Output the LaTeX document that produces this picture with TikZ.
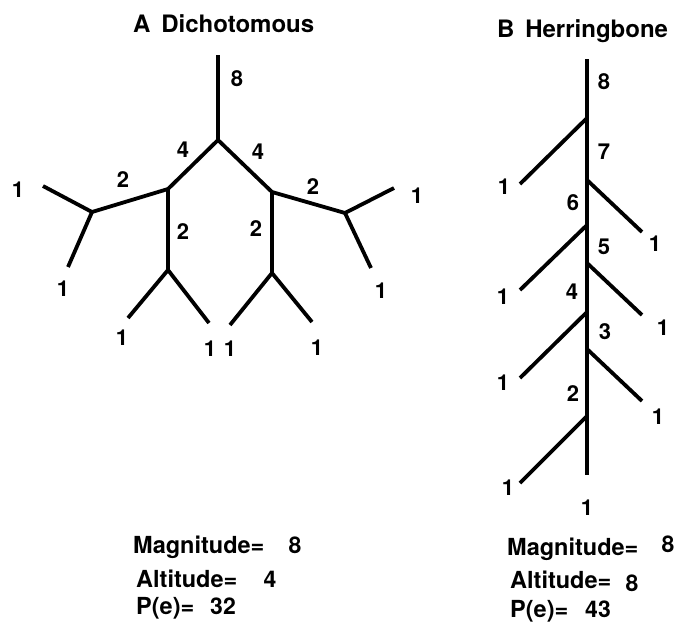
\documentclass[tikz,border=0pt]{standalone}
\usepackage{fontspec}
\setmainfont{TeX Gyre Heros}
\begin{document}
\begin{tikzpicture}[x=1pt,y=-1pt,
  br/.style={line width=3.8pt, line join=miter},
  lbl/.style={font=\fontsize{22}{22}\selectfont\bfseries, inner sep=0pt},
  ttl/.style={font=\fontsize{24}{24}\selectfont\bfseries, inner sep=0pt, anchor=base west},
  stat/.style={font=\fontsize{23.5}{23.5}\selectfont\bfseries, inner sep=0pt, anchor=base west},
  statnum/.style={font=\fontsize{23}{23}\selectfont\bfseries, inner sep=0pt, anchor=base}]
\useasboundingbox (0,0) rectangle (675,622);
% ---------- A Dichotomous ----------
\node[ttl] (tA) at (133,32) {A\hspace{0.45em}Dichotomous};
\coordinate (aTop) at (218,55);
\coordinate (aJ) at (218,140);
\coordinate (aL) at (168,189);
\coordinate (aR) at (272,192);
\coordinate (aLL) at (92,212);
\coordinate (aLL1) at (43,186);
\coordinate (aLL2) at (68,267);
\coordinate (aLD) at (168,270);
\coordinate (aLD1) at (128,318);
\coordinate (aLD2) at (209,323);
\coordinate (aRD) at (272,273);
\coordinate (aRD1) at (230,325);
\coordinate (aRD2) at (312,322);
\coordinate (aRR) at (345,213);
\coordinate (aRR1) at (394,188);
\coordinate (aRR2) at (371,268);
\draw[br] (aTop) -- (aJ);
\draw[br] (aL) -- (aJ) -- (aR);
\draw[br] (aLL1) -- (aLL) -- (aL) -- (aLD);
\draw[br] (aLL) -- (aLL2);
\draw[br] (aLD1) -- (aLD) -- (aLD2);
\draw[br] (aRR1) -- (aRR) -- (aR) -- (aRD);
\draw[br] (aRR) -- (aRR2);
\draw[br] (aRD1) -- (aRD) -- (aRD2);
\node[lbl] (a8) at (237,79) {8};
\node[lbl] (a4l) at (183,150) {4};
\node[lbl] (a4r) at (258,152) {4};
\node[lbl] (a2a) at (123,180) {2};
\node[lbl] (a2b) at (183,232) {2};
\node[lbl] (a2c) at (256,229) {2};
\node[lbl] (a2d) at (313,187) {2};
\node[lbl] (a1a) at (18,190) {1};
\node[lbl] (a1b) at (63,289) {1};
\node[lbl] (a1c) at (122,338) {1};
\node[lbl] (a1d) at (210,349) {1};
\node[lbl] (a1e) at (230,349) {1};
\node[lbl] (a1f) at (317,348) {1};
\node[lbl] (a1g) at (417,196) {1};
\node[lbl] (a1h) at (381,291) {1};
\node[stat] (aMag) at (133,553) {Magnitude=};
\node[statnum] (aMagN) at (295,553) {8};
\node[stat] (aAlt) at (136,587) {Altitude=};
\node[statnum] (aAltN) at (270,587) {4};
\node[stat] (aPe) at (136,614) {P(e)=};
\node[statnum] (aPeN) at (223,614) {32};
% ---------- B Herringbone ----------
\node[ttl] (tB) at (497,37) {B\hspace{0.45em}Herringbone};
\coordinate (bTop) at (587,59);
\coordinate (bBot) at (587,475);
\coordinate (b1) at (587,118);
\coordinate (b2) at (587,180);
\coordinate (b3) at (587,225);
\coordinate (b4) at (587,263);
\coordinate (b5) at (587,312);
\coordinate (b6) at (587,349);
\coordinate (b7) at (587,416);
\coordinate (e1) at (520,184);
\coordinate (e2) at (642,232);
\coordinate (e3) at (520,290);
\coordinate (e4) at (642,315);
\coordinate (e5) at (520,378);
\coordinate (e6) at (642,401);
\coordinate (e7) at (520,483);
\draw[br] (bTop) -- (bBot);
\draw[br] (b1) -- (e1);
\draw[br] (b2) -- (e2);
\draw[br] (b3) -- (e3);
\draw[br] (b4) -- (e4);
\draw[br] (b5) -- (e5);
\draw[br] (b6) -- (e6);
\draw[br] (b7) -- (e7);
\node[lbl] (b8l) at (604,82) {8};
\node[lbl] (b7l) at (604,152) {7};
\node[lbl] (b6l) at (573,203) {6};
\node[lbl] (b5l) at (604,247) {5};
\node[lbl] (b4l) at (572,292) {4};
\node[lbl] (b3l) at (605,332) {3};
\node[lbl] (b2l) at (573,394) {2};
\node[lbl] (b1a) at (504,187) {1};
\node[lbl] (b1b) at (655,244) {1};
\node[lbl] (b1c) at (503,297) {1};
\node[lbl] (b1d) at (663,328) {1};
\node[lbl] (b1e) at (503,383) {1};
\node[lbl] (b1f) at (658,417) {1};
\node[lbl] (b1g) at (508,488) {1};
\node[lbl] (b1h) at (587,508) {1};
\node[stat] (bMag) at (507,555) {Magnitude=};
\node[statnum] (bMagN) at (668,552) {8};
\node[stat] (bAlt) at (510,588) {Altitude=};
\node[statnum] (bAltN) at (632,591) {8};
\node[stat] (bPe) at (510,617) {P(e)=};
\node[statnum] (bPeN) at (598,617) {43};
\end{tikzpicture}
\end{document}
